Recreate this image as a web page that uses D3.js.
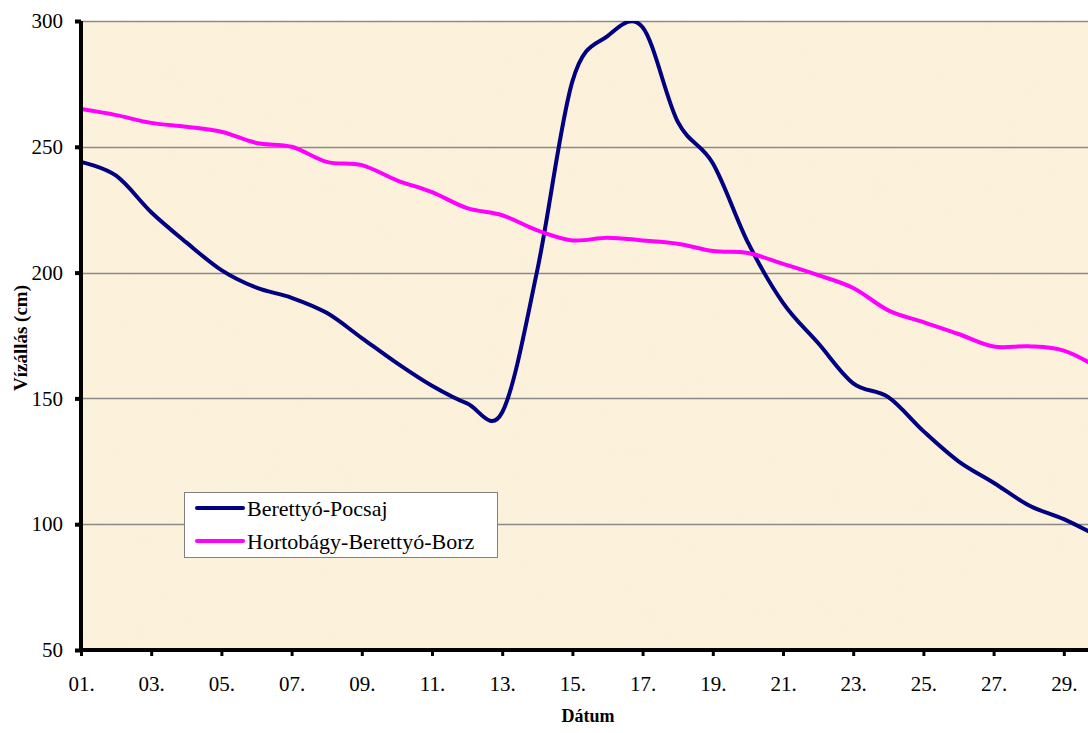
<!DOCTYPE html>
<html>
<head>
<meta charset="utf-8">
<script src="https://cdn.jsdelivr.net/npm/d3@7"></script>
<style>
  html, body { margin: 0; padding: 0; background: #fff; overflow: hidden; }
  svg { display: block; }
  svg text { font-family: "Liberation Serif", "Times New Roman", "DejaVu Serif", serif !important; }
</style>
</head>
<body>
<svg id="chart" width="1088" height="733"></svg>
<script>
const days = ["01.", "02.", "03.", "04.", "05.", "06.", "07.", "08.", "09.", "10.",
  "11.", "12.", "13.", "14.", "15.", "16.", "17.", "18.", "19.", "20.",
  "21.", "22.", "23.", "24.", "25.", "26.", "27.", "28.", "29.", "30."];
const tickDays = ["01.", "03.", "05.", "07.", "09.", "11.", "13.", "15.",
  "17.", "19.", "21.", "23.", "25.", "27.", "29."];
const yTicks = [50, 100, 150, 200, 250, 300];

const pocsaj = [244, 238.5, 224, 212, 201, 194, 190, 184, 174, 164,
  155, 148, 144.5, 201, 276, 294, 297.5, 260, 243.5, 212,
  188, 172, 156, 150.5, 137, 125, 116.5, 107.5, 102, 95];
const borz = [265, 262.6, 259.5, 258, 256, 251.5, 250, 244, 242.7, 236.7,
  232, 225.6, 222.8, 216.8, 212.8, 213.9, 212.8, 211.5, 208.6, 207.8,
  203.5, 199, 193.9, 185, 180.3, 175.6, 170.6, 170.7, 169, 162];

const seriesList = [
  { name: "Berettyó-Pocsaj", values: pocsaj, color: "#000080" },
  { name: "Hortobágy-Berettyó-Borz", values: borz, color: "#FF00FF" }
];

const plotLeft = 81, plotTop = 21, plotBottom = 650;
const step = 35.1;
const plotRight = plotLeft + step * (days.length - 1);

const svg = d3.select("#chart");
const defs = svg.append("defs");

const x = d3.scalePoint().domain(days).range([plotLeft, plotRight]);
const y = d3.scaleLinear().domain([50, 300]).range([plotBottom, plotTop]);

// parchment-like fill of the plot area
const paper = defs.append("filter").attr("id", "paper")
  .attr("x", 0).attr("y", 0).attr("width", 1).attr("height", 1);
paper.append("feTurbulence")
  .attr("type", "fractalNoise")
  .attr("baseFrequency", 0.045)
  .attr("numOctaves", 2)
  .attr("seed", 7);
paper.append("feColorMatrix")
  .attr("type", "matrix")
  .attr("values", "0 0 0 0 0.90  0 0 0 0 0.80  0 0 0 0 0.60  0.45 0 0 0 -0.15");

svg.append("rect")
  .attr("x", plotLeft).attr("y", plotTop)
  .attr("width", plotRight - plotLeft).attr("height", plotBottom - plotTop)
  .attr("fill", "#FCF1DB");
svg.append("rect")
  .attr("x", plotLeft).attr("y", plotTop)
  .attr("width", plotRight - plotLeft).attr("height", plotBottom - plotTop)
  .attr("filter", "url(#paper)")
  .attr("opacity", 0.35);

defs.append("clipPath").attr("id", "plotclip")
  .append("rect")
  .attr("x", plotLeft).attr("y", plotTop)
  .attr("width", plotRight - plotLeft).attr("height", plotBottom - plotTop);

// gridlines
svg.append("g")
  .selectAll("line")
  .data(yTicks.filter(v => v > 50))
  .join("line")
  .attr("x1", plotLeft).attr("x2", plotRight)
  .attr("y1", d => Math.round(y(d)) + 0.5)
  .attr("y2", d => Math.round(y(d)) + 0.5)
  .attr("stroke", "#8a8a8a")
  .attr("stroke-width", 1.5);

// series
const line = d3.line()
  .x((d, i) => x(days[i]))
  .y(d => y(d))
  .curve(d3.curveCardinal.tension(0));

svg.append("g")
  .attr("clip-path", "url(#plotclip)")
  .selectAll("path")
  .data(seriesList)
  .join("path")
  .attr("d", d => line(d.values))
  .attr("fill", "none")
  .attr("stroke", d => d.color)
  .attr("stroke-width", 4)
  .attr("stroke-linejoin", "round");

// y axis
const yAxis = svg.append("g")
  .attr("transform", `translate(${plotLeft},0)`)
  .call(d3.axisLeft(y).tickValues(yTicks).tickSize(6).tickPadding(12));
yAxis.select(".domain").attr("stroke", "#000").attr("stroke-width", 4)
  .attr("d", `M0,${plotTop}V${plotBottom + 2}`);
yAxis.selectAll(".tick line").attr("stroke", "#000").attr("stroke-width", 4);
yAxis.selectAll(".tick text")
  .attr("fill", "#000")
  .attr("font-size", 21);

// x axis
const xAxis = svg.append("g")
  .attr("transform", `translate(0,${plotBottom})`)
  .call(d3.axisBottom(x).tickValues(tickDays).tickSize(6).tickPadding(20));
xAxis.select(".domain").attr("stroke", "#000").attr("stroke-width", 4)
  .attr("d", `M${plotLeft - 2},0H${plotRight}`);
xAxis.selectAll(".tick line").attr("stroke", "#000").attr("stroke-width", 3);
xAxis.selectAll(".tick text")
  .attr("fill", "#000")
  .attr("font-size", 21);

// axis titles
svg.append("text")
  .attr("transform", "translate(27,338) rotate(-90)")
  .attr("text-anchor", "middle")
  .attr("font-weight", "bold")
  .attr("font-size", 19)
  .text("Vízállás (cm)");

svg.append("text")
  .attr("x", 588).attr("y", 722)
  .attr("text-anchor", "middle")
  .attr("font-weight", "bold")
  .attr("font-size", 18)
  .text("Dátum");

// legend
const legend = svg.append("g").attr("transform", "translate(184,492)");
legend.append("rect")
  .attr("x", 0.5).attr("y", 0.5)
  .attr("width", 313).attr("height", 65)
  .attr("fill", "#fff")
  .attr("stroke", "#808080");

const items = legend.selectAll("g.item")
  .data(seriesList)
  .join("g")
  .attr("class", "item")
  .attr("transform", (d, i) => `translate(0,${16 + i * 33})`);
items.append("line")
  .attr("x1", 13).attr("x2", 59)
  .attr("stroke", d => d.color)
  .attr("stroke-width", 4)
  .attr("stroke-linecap", "round");
items.append("text")
  .attr("x", 63).attr("y", 8)
  .attr("font-size", 22)
  .text(d => d.name);
</script>
</body>
</html>
